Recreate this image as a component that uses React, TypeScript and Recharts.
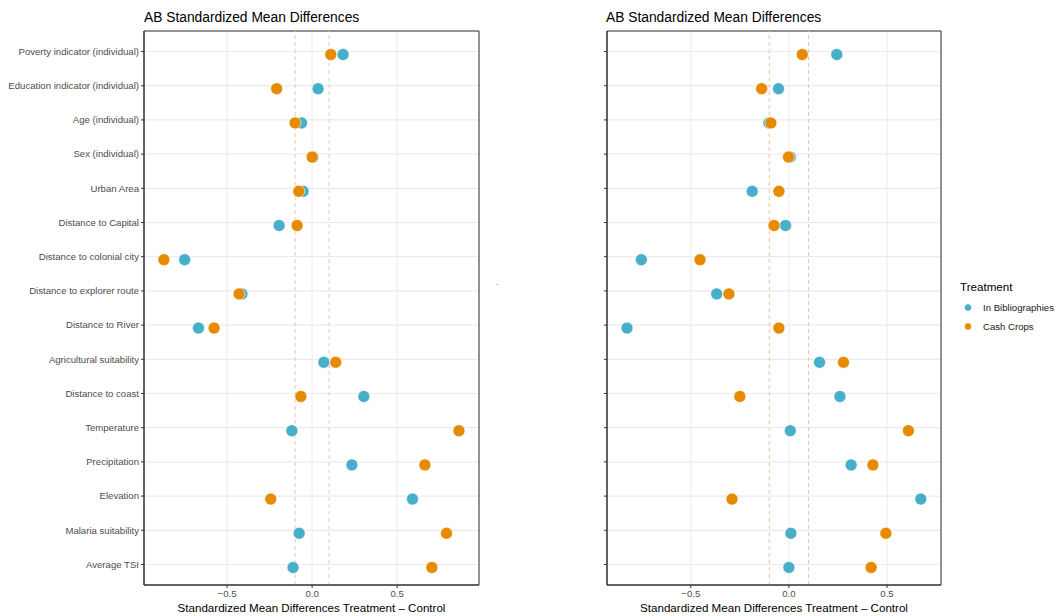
import React from 'react';
import { ScatterChart, Scatter, XAxis, YAxis, CartesianGrid, ReferenceLine, ReferenceArea } from 'recharts';

// rows, top to bottom
const variables = [
  'Poverty indicator (individual)',
  'Education indicator (individual)',
  'Age (individual)',
  'Sex (individual)',
  'Urban Area',
  'Distance to Capital',
  'Distance to colonial city',
  'Distance to explorer route',
  'Distance to River',
  'Agricultural suitability',
  'Distance to coast',
  'Temperature',
  'Precipitation',
  'Elevation',
  'Malaria suitability',
  'Average TSI',
];

const leftBiblio = [0.182, 0.035, -0.062, 0.005, -0.053, -0.194, -0.749, -0.412, -0.668, 0.069, 0.304, -0.119, 0.234, 0.59, -0.076, -0.112];
const leftCash = [0.11, -0.208, -0.1, 0.0, -0.078, -0.088, -0.871, -0.429, -0.576, 0.139, -0.066, 0.863, 0.663, -0.243, 0.79, 0.704];
const rightBiblio = [0.244, -0.053, -0.102, 0.007, -0.187, -0.017, -0.752, -0.368, -0.825, 0.156, 0.26, 0.007, 0.317, 0.672, 0.01, 0.0];
const rightCash = [0.068, -0.139, -0.092, -0.002, -0.051, -0.076, -0.453, -0.306, -0.051, 0.278, -0.25, 0.609, 0.428, -0.29, 0.494, 0.419];

const majorTicks = [-0.5, 0, 0.5];
const minorTicks = [-0.75, -0.25, 0.25, 0.75];
const thresholds = [-0.1, 0.1];
const rowTicks = variables.map((_, i) => i);
const rowDomain: [number, number] = [-0.6, 15.6];

const BLUE = '#47AFCA';
const ORANGE = '#E68A00';
const FONT = '"Liberation Sans", Arial, Helvetica, sans-serif';

const toPoints = (vals: number[]) => vals.map((x, i) => ({ x, y: i, name: variables[i] }));

const fmt = (v: number) => (v < 0 ? '\u2212' + Math.abs(v).toFixed(1) : v.toFixed(1));

const dot = (color: string) => (props: any) => (
  <circle cx={props.cx} cy={props.cy + 3} r={6} fill={color} stroke="#ffffff" strokeWidth={0.6} />
);

// plain text so long labels are not wrapped
const RowTick = (props: any) => (
  <text x={props.x} y={props.y} dy="0.35em" textAnchor="end" fontSize={9.6} fontFamily={FONT} fill="#4D4D4D">
    {props.show ? variables[props.payload.value] : ''}
  </text>
);

type PanelProps = {
  left: number;
  width: number;
  axisWidth: number;
  rightMargin: number;
  domain: [number, number];
  biblio: number[];
  cash: number[];
  showLabels: boolean;
};

const Panel = ({ left, width, axisWidth, rightMargin, domain, biblio, cash, showLabels }: PanelProps) => (
  <div style={{ position: 'absolute', left, top: 0 }}>
    <ScatterChart width={width} height={616} margin={{ top: 31, right: rightMargin, bottom: 3, left: 0 }}>
      <CartesianGrid xAxisId="minor" horizontal={false} vertical stroke="#EBEBEB" strokeWidth={0.5} />
      <CartesianGrid xAxisId="main" horizontal={false} vertical stroke="#EBEBEB" strokeWidth={1} />
      <CartesianGrid xAxisId="main" horizontal vertical={false} stroke="#EBEBEB" strokeWidth={1.2} />
      <XAxis
        xAxisId="main"
        type="number"
        dataKey="x"
        domain={domain}
        allowDataOverflow
        ticks={majorTicks}
        tickFormatter={fmt}
        height={28}
        tickSize={3}
        tickMargin={2}
        axisLine={{ stroke: '#333333' }}
        tickLine={{ stroke: '#333333' }}
        tick={{ fill: '#4D4D4D', fontSize: 9.6, fontFamily: FONT }}
      />
      <XAxis
        xAxisId="minor"
        orientation="top"
        type="number"
        dataKey="x"
        domain={domain}
        allowDataOverflow
        ticks={minorTicks}
        height={0}
        tick={false}
        tickLine={false}
        axisLine={false}
      />
      <YAxis
        type="number"
        dataKey="y"
        domain={rowDomain}
        reversed
        ticks={rowTicks}
        interval={0}
        width={axisWidth}
        tickSize={3}
        tickMargin={2}
        axisLine={{ stroke: '#333333' }}
        tickLine={{ stroke: '#333333' }}
        tick={<RowTick show={showLabels} />}
      />
      {thresholds.map((t) => (
        <ReferenceLine key={t} xAxisId="main" x={t} stroke="#F3C6A2" strokeWidth={1} strokeDasharray="4 3" />
      ))}
      <ReferenceArea
        xAxisId="main"
        x1={domain[0]}
        x2={domain[1]}
        y1={rowDomain[0]}
        y2={rowDomain[1]}
        fill="none"
        fillOpacity={0}
        stroke="#333333"
        strokeWidth={1}
      />
      <Scatter
        name="In Bibliographies"
        xAxisId="main"
        data={toPoints(biblio)}
        fill={BLUE}
        shape={dot(BLUE)}
        isAnimationActive={false}
      />
      <Scatter
        name="Cash Crops"
        xAxisId="main"
        data={toPoints(cash)}
        fill={ORANGE}
        shape={dot(ORANGE)}
        isAnimationActive={false}
      />
    </ScatterChart>
  </div>
);

export default function App() {
  return (
    <div style={{ position: 'absolute', left: 0, top: 0, width: 1057, height: 616, background: '#fff', fontFamily: FONT }}>
      <Panel left={0} width={500} axisWidth={144} rightMargin={21} domain={[-0.988, 0.981]} biblio={leftBiblio} cash={leftCash} showLabels />
      <Panel left={500} width={460} axisWidth={107} rightMargin={19} domain={[-0.927, 0.775]} biblio={rightBiblio} cash={rightCash} showLabels={false} />
      <svg width={1057} height={616} style={{ position: 'absolute', left: 0, top: 0, pointerEvents: 'none' }} fontFamily={FONT}>
        <text x={144} y={21.5} fontSize={13.8} fill="#000">AB Standardized Mean Differences</text>
        <text x={606} y={21.5} fontSize={13.8} fill="#000">AB Standardized Mean Differences</text>
        <text x={311.5} y={611.5} fontSize={11.6} fill="#000" textAnchor="middle">Standardized Mean Differences Treatment – Control</text>
        <text x={774} y={611.5} fontSize={11.6} fill="#000" textAnchor="middle">Standardized Mean Differences Treatment – Control</text>
        <text x={496} y={285} fontSize={7} fill="#333">.</text>
        <text x={960} y={291} fontSize={11.6} fill="#000">Treatment</text>
        <circle cx={968} cy={307.5} r={3.2} fill={BLUE} />
        <circle cx={968} cy={326.5} r={3.2} fill={ORANGE} />
        <text x={983} y={310.8} fontSize={9.6} fill="#1A1A1A">In Bibliographies</text>
        <text x={983} y={329.8} fontSize={9.6} fill="#1A1A1A">Cash Crops</text>
      </svg>
    </div>
  );
}
